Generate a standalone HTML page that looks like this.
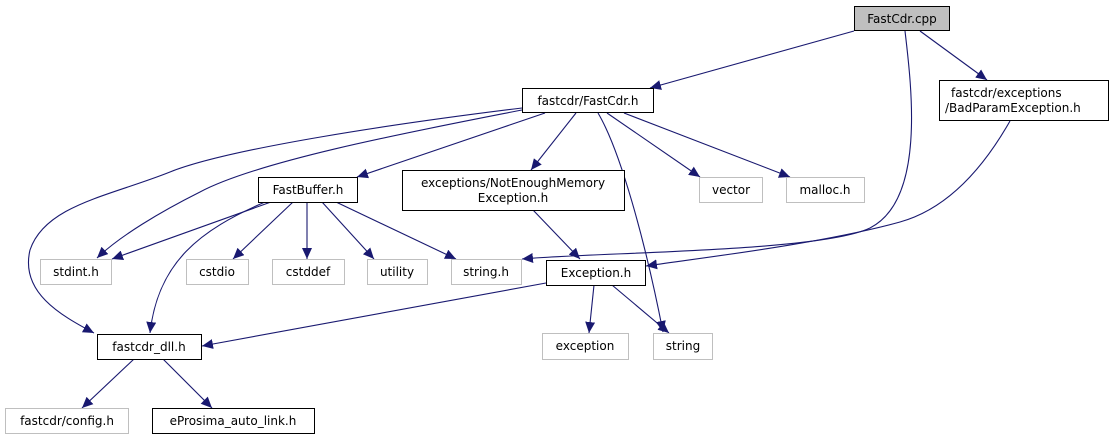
<!DOCTYPE html>
<html><head><meta charset="utf-8"><style>
html,body{margin:0;padding:0;background:#fff;width:1113px;height:440px;overflow:hidden}
text{font-family:"DejaVu Sans","Liberation Sans",sans-serif;font-size:12px;fill:#000}
</style></head><body>
<svg width="1113" height="440" viewBox="0 0 1113 440" xmlns="http://www.w3.org/2000/svg">
<defs><marker id="a" markerUnits="userSpaceOnUse" markerWidth="12" markerHeight="10" refX="11" refY="5" orient="auto"><path d="M0,0 L11,5 L0,10 Z" fill="#191970"/></marker></defs>
<g fill="none" stroke="#191970" stroke-width="1.1" marker-end="url(#a)">
<path d="M854,31 L650,88"/>
<path d="M905,31 C912,90 925,200 870,228 C820,252 600,252 522,259"/>
<path d="M920,31 L987,80"/>
<path d="M1010,121 C985,165 950,208 900,222 C820,244 700,258 646,266"/>
<path d="M522,108 C400,123 230,148 170,172 C110,196 45,205 30,250 C20,292 60,315 94,333"/>
<path d="M522,110 C420,130 260,160 200,192 C160,212 120,236 97,258"/>
<path d="M545,113 L357,177"/>
<path d="M576,113 L531,170"/>
<path d="M598,113 C620,150 645,240 663,332"/>
<path d="M607,113 L700,177"/>
<path d="M624,113 L790,177"/>
<path d="M533,210 L580,259"/>
<path d="M271,202 L112,259"/>
<path d="M265,202 C200,230 158,262 150,333"/>
<path d="M293,202 L233,259"/>
<path d="M307,202 L307,259"/>
<path d="M322,202 L374,259"/>
<path d="M336,202 L456,259"/>
<path d="M546,283 L202,346"/>
<path d="M594,285 L589,333"/>
<path d="M612,285 L669,333"/>
<path d="M134,359 L82,408"/>
<path d="M163,359 L212,408"/>
</g>
<g stroke-width="1">
<rect x="854.5" y="6.5" width="95" height="24" fill="#bfbfbf" stroke="#000"/>
<rect x="522.5" y="88.5" width="131" height="24" fill="#fff" stroke="#000"/>
<rect x="939.5" y="80.5" width="169" height="40" fill="#fff" stroke="#000"/>
<rect x="402.5" y="170.5" width="222" height="40" fill="#fff" stroke="#000"/>
<rect x="258.5" y="177.5" width="99" height="25" fill="#fff" stroke="#000"/>
<rect x="699.5" y="177.5" width="63" height="25" fill="#fff" stroke="#bfbfbf"/>
<rect x="786.5" y="177.5" width="78" height="25" fill="#fff" stroke="#bfbfbf"/>
<rect x="40.5" y="259.5" width="71" height="25" fill="#fff" stroke="#bfbfbf"/>
<rect x="186.5" y="259.5" width="62" height="25" fill="#fff" stroke="#bfbfbf"/>
<rect x="272.5" y="259.5" width="72" height="25" fill="#fff" stroke="#bfbfbf"/>
<rect x="367.5" y="259.5" width="60" height="25" fill="#fff" stroke="#bfbfbf"/>
<rect x="451.5" y="259.5" width="70" height="25" fill="#fff" stroke="#bfbfbf"/>
<rect x="546.5" y="260.5" width="99" height="25" fill="#fff" stroke="#000"/>
<rect x="97.5" y="334.5" width="104" height="25" fill="#fff" stroke="#000"/>
<rect x="542.5" y="333.5" width="86" height="26" fill="#fff" stroke="#bfbfbf"/>
<rect x="653.5" y="333.5" width="59" height="26" fill="#fff" stroke="#bfbfbf"/>
<rect x="5.5" y="408.5" width="123" height="25" fill="#fff" stroke="#bfbfbf"/>
<rect x="152.5" y="408.5" width="162" height="25" fill="#fff" stroke="#000"/>
</g>
<g text-anchor="middle">
<text x="902" y="23">FastCdr.cpp</text>
<text x="588" y="105">fastcdr/FastCdr.h</text>
<text x="513" y="187">exceptions/NotEnoughMemory</text>
<text x="513" y="202">Exception.h</text>
<text x="308" y="194">FastBuffer.h</text>
<text x="731" y="194">vector</text>
<text x="825" y="194">malloc.h</text>
<text x="76" y="276">stdint.h</text>
<text x="217" y="276">cstdio</text>
<text x="308" y="276">cstddef</text>
<text x="397" y="276">utility</text>
<text x="486" y="276">string.h</text>
<text x="596" y="277">Exception.h</text>
<text x="149" y="351">fastcdr_dll.h</text>
<text x="585" y="350">exception</text>
<text x="683" y="350">string</text>
<text x="67" y="425">fastcdr/config.h</text>
<text x="233" y="425">eProsima_auto_link.h</text>
</g>
<text x="951" y="97">fastcdr/exceptions</text>
<text x="945" y="112">/BadParamException.h</text>
</svg>
</body></html>
